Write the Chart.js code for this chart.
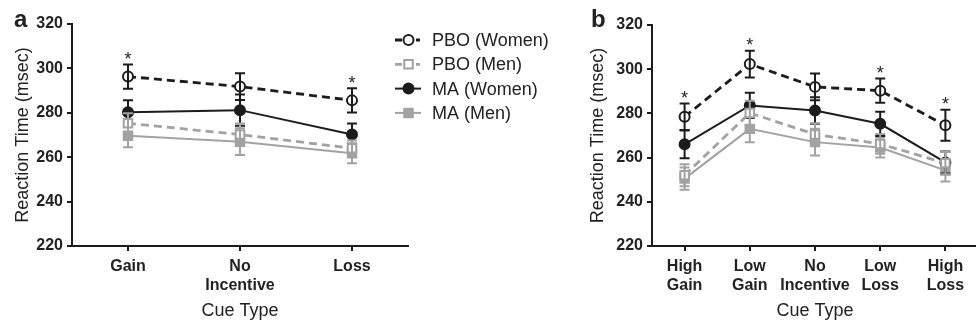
<!DOCTYPE html>
<html>
<head>
<meta charset="utf-8">
<script src="https://cdn.jsdelivr.net/npm/chart.js@4.4.1/dist/chart.umd.min.js"></script>
<style>
  body { margin: 0; background: #fff; overflow: hidden; }
  #wrap { position: relative; width: 976px; height: 327px; overflow: hidden; }
  canvas { position: absolute; top: 0; }
  #chartA { left: 0; }
  #chartB { left: 490px; }
</style>
</head>
<body>
<div id="wrap">
  <canvas id="chartA" width="580" height="327"></canvas>
  <canvas id="chartB" width="496" height="327"></canvas>
</div>
<script>
// panel a
const labelsA = ['Gain', ['No', 'Incentive'], 'Loss'];
const pboWomenA = [296.3, 291.8, 285.6];
const pboWomenErrA = [5.5, 6, 5.5];
const pboMenA = [275.3, 270.2, 264];
const pboMenErrA = [4.5, 5, 3.5];
const maWomenA = [280.2, 281.2, 270.2];
const maWomenErrA = [5.5, 7, 5];
const maMenA = [269.7, 267, 261.8];
const maMenErrA = [5.2, 6, 4.5];
const sigA = [true, false, true];

// panel b
const labelsB = [['High', 'Gain'], ['Low', 'Gain'], ['No', 'Incentive'], ['Low', 'Loss'], ['High', 'Loss']];
const pboWomenB = [278.5, 302.3, 292, 290.3, 274.6];
const pboWomenErrB = [6, 6, 6, 5.5, 7];
const pboMenB = [252, 280.2, 270.5, 266.2, 257.5];
const pboMenErrB = [5, 5.5, 5, 4.5, 5];
const maWomenB = [266, 283.6, 281.3, 275.3, 257.8];
const maWomenErrB = [6.3, 5.7, 6, 5.5, 5];
const maMenB = [250.5, 273, 267, 264.6, 254.2];
const maMenErrB = [5, 6, 6, 4.5, 5];
const sigB = [true, true, false, true, true];

const seriesNames = ['PBO (Women)', 'PBO (Men)', 'MA (Women)', 'MA (Men)'];
const yTicks = [220, 240, 260, 280, 300, 320];

const FONT = "'Liberation Sans', Arial, Helvetica, sans-serif";
const BLACK = '#1c1c1c';
const GREY = '#a2a2a2';
const TEXT = '#222';

const styles = [
  { color: BLACK, dash: [8, 5], width: 2.8, point: 'circle', fill: '#fff', radius: 5 },
  { color: GREY, dash: [8, 5], width: 2.8, point: 'rect', fill: '#fff', radius: 6 },
  { color: BLACK, dash: [], width: 2, point: 'circle', fill: BLACK, radius: 5 },
  { color: GREY, dash: [], width: 2, point: 'rect', fill: GREY, radius: 6 }
];

function makeDatasets(values, errors) {
  return values.map((v, i) => ({
    label: seriesNames[i],
    data: v,
    errors: errors[i],
    borderColor: styles[i].color,
    borderWidth: styles[i].width,
    borderDash: styles[i].dash,
    pointStyle: styles[i].point,
    pointRadius: styles[i].radius,
    pointBackgroundColor: styles[i].fill,
    pointBorderColor: styles[i].color,
    pointBorderWidth: 2,
    tension: 0,
    fill: false
  }));
}

const errorBars = {
  id: 'errorBars',
  afterDatasetDraw(chart, args) {
    const ds = chart.data.datasets[args.index];
    const y = chart.scales.y;
    const ctx = chart.ctx;
    ctx.save();
    ctx.strokeStyle = ds.borderColor;
    ctx.lineWidth = 2;
    ctx.setLineDash([]);
    args.meta.data.forEach((pt, i) => {
      const top = y.getPixelForValue(ds.data[i] + ds.errors[i]);
      const bot = y.getPixelForValue(ds.data[i] - ds.errors[i]);
      ctx.beginPath();
      ctx.moveTo(pt.x, top); ctx.lineTo(pt.x, bot);
      ctx.moveTo(pt.x - 5, top); ctx.lineTo(pt.x + 5, top);
      ctx.moveTo(pt.x - 5, bot); ctx.lineTo(pt.x + 5, bot);
      ctx.stroke();
    });
    ctx.restore();
  }
};

const stars = {
  id: 'stars',
  afterDatasetsDraw(chart, args, opts) {
    const ctx = chart.ctx;
    const x = chart.scales.x, y = chart.scales.y;
    ctx.save();
    ctx.fillStyle = TEXT;
    ctx.font = '18px ' + FONT;
    ctx.textAlign = 'center';
    ctx.textBaseline = 'alphabetic';
    opts.sig.forEach((s, i) => {
      if (!s) return;
      let top = Infinity;
      chart.data.datasets.forEach(ds => {
        top = Math.min(top, y.getPixelForValue(ds.data[i] + ds.errors[i]));
      });
      ctx.fillText('*', x.getPixelForValue(i), top - 10 + 10.5);
    });
    // panel letter
    ctx.font = 'bold 24px ' + FONT;
    ctx.textAlign = 'left';
    ctx.fillText(opts.letter, opts.letterX, 27);
    ctx.restore();
  }
};

function drawMarker(ctx, s, cx, cy) {
  ctx.setLineDash([]);
  ctx.lineWidth = 2;
  ctx.strokeStyle = s.color;
  ctx.fillStyle = s.fill;
  ctx.beginPath();
  if (s.point === 'circle') {
    ctx.arc(cx, cy, s.radius, 0, Math.PI * 2);
  } else {
    const h = s.radius * Math.SQRT1_2;
    ctx.rect(cx - h, cy - h, 2 * h, 2 * h);
  }
  ctx.fill();
  ctx.stroke();
}

const legendBox = {
  id: 'legendBox',
  afterDraw(chart) {
    const ctx = chart.ctx;
    ctx.save();
    styles.forEach((s, i) => {
      const cy = 40 + i * 24.3;
      ctx.strokeStyle = s.color;
      ctx.lineWidth = s.width;
      ctx.setLineDash([]);
      ctx.beginPath();
      if (s.dash.length) {
        ctx.moveTo(395, cy); ctx.lineTo(402, cy);
        ctx.moveTo(416, cy); ctx.lineTo(420, cy);
      } else {
        ctx.moveTo(395, cy); ctx.lineTo(421, cy);
      }
      ctx.stroke();
      drawMarker(ctx, s, 408.5, cy);
      ctx.fillStyle = TEXT;
      ctx.font = '18px ' + FONT;
      ctx.textAlign = 'left';
      ctx.textBaseline = 'middle';
      ctx.fillText(seriesNames[i], 432, cy + 1);
    });
    ctx.restore();
  }
};

function axisOpts(yTitlePad) {
  const grid = { display: true, drawOnChartArea: false, drawTicks: true, tickLength: 5, color: BLACK, lineWidth: 2, offset: false };
  const border = { display: true, color: BLACK, width: 2 };
  const tickFont = { family: FONT, size: 16, weight: 'bold', lineHeight: 1.2 };
  return {
    x: {
      type: 'category',
      offset: true,
      grid: grid,
      border: border,
      ticks: { color: TEXT, font: tickFont, padding: 6, maxRotation: 0, autoSkip: false },
      title: { display: true, text: 'Cue Type', color: TEXT, font: { family: FONT, size: 18, lineHeight: 1.2 }, padding: { top: 0, bottom: 5 } },
      afterFit(s) { s.height = 81; }
    },
    y: {
      min: 220,
      max: 320,
      grid: grid,
      border: border,
      afterBuildTicks(s) { s.ticks = yTicks.map(v => ({ value: v })); },
      ticks: { color: TEXT, font: tickFont, padding: 4 },
      title: { display: true, text: 'Reaction Time (msec)', color: TEXT, font: { family: FONT, size: 18, lineHeight: 1.2 }, padding: { top: yTitlePad, bottom: 0 } },
      afterFit(s) { s.width = 72; }
    }
  };
}

new Chart(document.getElementById('chartA'), {
  type: 'line',
  data: {
    labels: labelsA,
    datasets: makeDatasets([pboWomenA, pboMenA, maWomenA, maMenA], [pboWomenErrA, pboMenErrA, maWomenErrA, maMenErrA])
  },
  options: {
    responsive: false,
    animation: false,
    layout: { padding: { left: 0, top: 24, right: 172, bottom: 0 } },
    scales: axisOpts(12.7),
    plugins: {
      legend: { display: false },
      tooltip: { enabled: false },
      stars: { sig: sigA, letter: 'a', letterX: 14 }
    }
  },
  plugins: [errorBars, stars, legendBox]
});

new Chart(document.getElementById('chartB'), {
  type: 'line',
  data: {
    labels: labelsB,
    datasets: makeDatasets([pboWomenB, pboMenB, maWomenB, maMenB], [pboWomenErrB, pboMenErrB, maWomenErrB, maMenErrB])
  },
  options: {
    responsive: false,
    animation: false,
    layout: { padding: { left: 90, top: 25, right: 0, bottom: 0 } },
    scales: axisOpts(7.2),
    plugins: {
      legend: { display: false },
      tooltip: { enabled: false },
      stars: { sig: sigB, letter: 'b', letterX: 101 }
    }
  },
  plugins: [errorBars, stars]
});
</script>
</body>
</html>
